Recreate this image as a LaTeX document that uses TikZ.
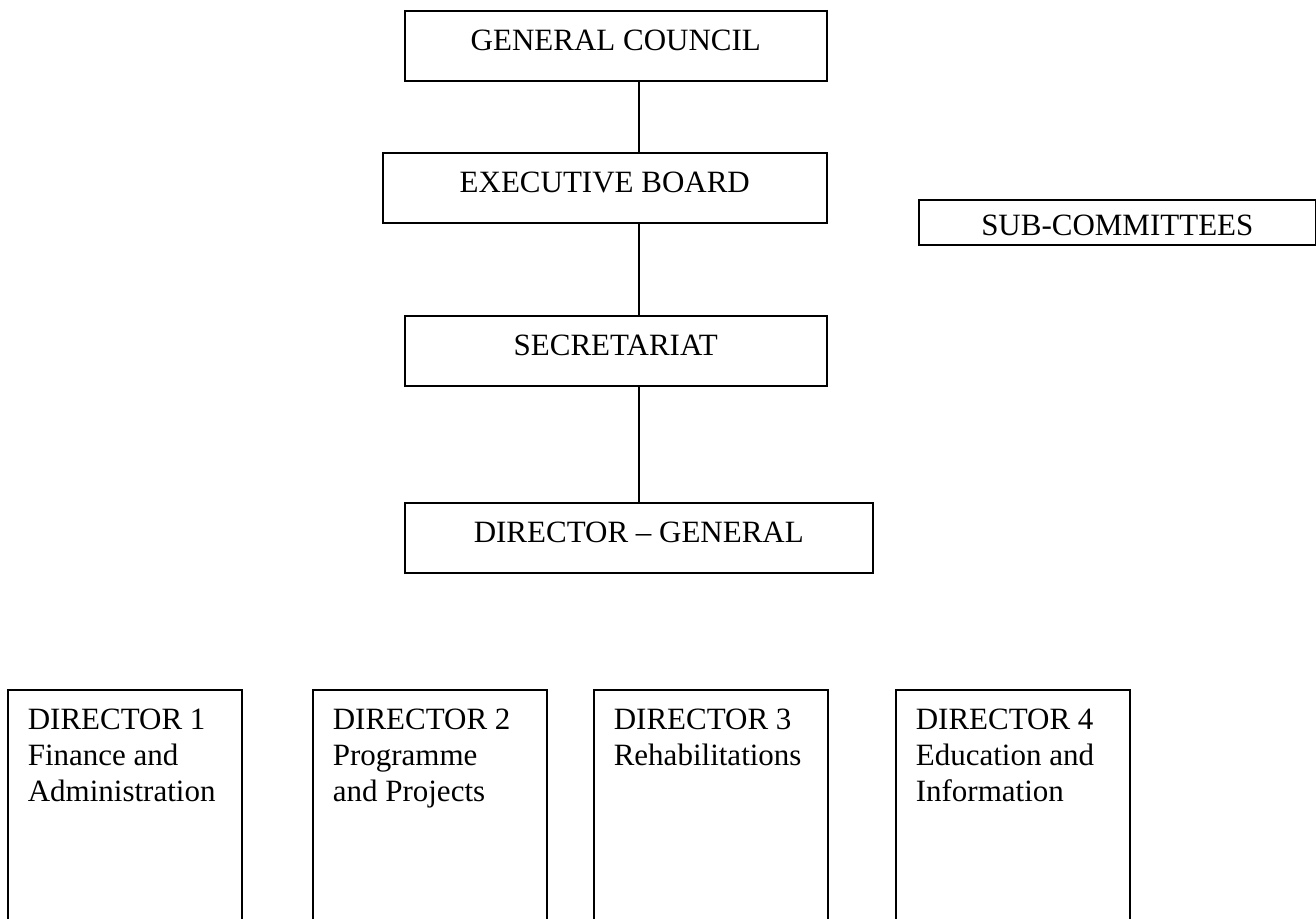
\documentclass[tikz,border=0pt]{standalone}
\usepackage{fontspec}
\setmainfont{Liberation Serif}

\tikzset{
  orgline/.style={line width=0.8pt},
  topbox/.style={draw, orgline, anchor=north west, minimum height=35pt,
    text height=10pt, text depth=5pt, inner sep=0pt,
    font=\fontsize{15.5}{18}\selectfont},
  dirbox/.style={draw, orgline, anchor=north west, inner xsep=10pt,
    inner ysep=9.5pt, font=\fontsize{15.5}{18}\selectfont}
}

\begin{document}
\begin{tikzpicture}[x=0.5pt, y=-0.5pt]
  \useasboundingbox (0,0) rectangle (1316,918);
  \clip (0,0) rectangle (1316,918);
  % top of the chart
  \node [topbox, minimum width=211pt] (council) at (404,10) {GENERAL COUNCIL};
  \node [topbox, minimum width=222pt] (board) at (382,152) {EXECUTIVE BOARD};
  \node [topbox, minimum width=211pt] (secret) at (404,315) {SECRETARIAT};
  \node [topbox, minimum width=234pt] (dirgen) at (404,502) {DIRECTOR -- GENERAL};
  \node [topbox, minimum width=198.5pt, minimum height=22.5pt,
         text height=13.4pt, text depth=0pt] (subcom) at (918,199) {SUB-COMMITTEES};
  % connectors
  \draw [orgline] (council.south -| dirgen) -- (board.north -| dirgen);
  \draw [orgline] (board.south -| dirgen) -- (secret.north -| dirgen);
  \draw [orgline] (secret.south -| dirgen) -- (dirgen.north);
  % directors
  \node [dirbox] (dir1) at (7,689)
    {\parbox[t][110pt][t]{97pt}{DIRECTOR 1\\Finance and\\Administration}};
  \node [dirbox] (dir2) at (312,689)
    {\parbox[t][110pt][t]{97pt}{DIRECTOR 2\\Programme\\and Projects}};
  \node [dirbox] (dir3) at (593,689)
    {\parbox[t][110pt][t]{97pt}{DIRECTOR 3\\Rehabilitations}};
  \node [dirbox] (dir4) at (895,689)
    {\parbox[t][110pt][t]{97pt}{DIRECTOR 4\\Education and\\Information}};
\end{tikzpicture}
\end{document}
